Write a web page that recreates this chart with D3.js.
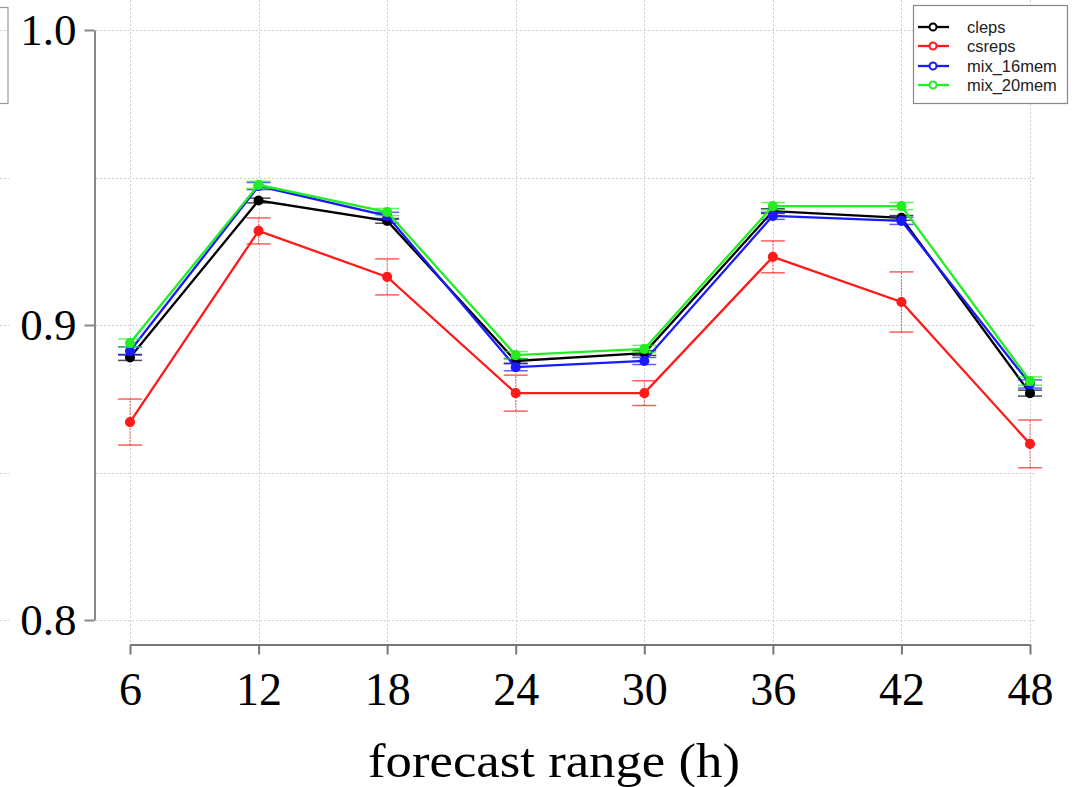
<!DOCTYPE html>
<html><head><meta charset="utf-8">
<script src="https://cdn.jsdelivr.net/npm/d3@7"></script>
<style>body{margin:0;background:#fff}svg{display:block}</style>
</head><body>
<svg id="c" width="1075" height="787"></svg>
<script>
const hours = [6, 12, 18, 24, 30, 36, 42, 48];
const seriesNames = ["cleps", "csreps", "mix_16mem", "mix_20mem"];
const seriesColors = ["#000000", "#ff1a1a", "#1a1aff", "#22ee22"];
const cleps     = [0.8890, 0.9422, 0.9353, 0.8878, 0.8905, 0.9386, 0.9363, 0.8769];
const csreps    = [0.8671, 0.9319, 0.9163, 0.8769, 0.8769, 0.9231, 0.9078, 0.8597];
const mix16     = [0.8912, 0.9471, 0.9370, 0.8857, 0.8878, 0.9370, 0.9353, 0.8800];
const mix20     = [0.8939, 0.9475, 0.9383, 0.8898, 0.8919, 0.9403, 0.9403, 0.8810];
const clepsErr  = [0.0010, 0.0008, 0.0008, 0.0008, 0.0008, 0.0008, 0.0008, 0.0010];
const csrepsErr = [0.0078, 0.0044, 0.0061, 0.0061, 0.0042, 0.0054, 0.0102, 0.0081];
const mix16Err  = [0.0014, 0.0012, 0.0012, 0.0012, 0.0012, 0.0012, 0.0012, 0.0014];
const mix20Err  = [0.0014, 0.0012, 0.0012, 0.0012, 0.0012, 0.0012, 0.0012, 0.0014];
const yTicks = [0.8, 0.9, 1.0];
const yGrid = [0.8, 0.85, 0.9, 0.95, 1.0];
const xLabel = "forecast range (h)";

const series = [
  {name: seriesNames[0], color: seriesColors[0], v: cleps,  e: clepsErr},
  {name: seriesNames[1], color: seriesColors[1], v: csreps, e: csrepsErr},
  {name: seriesNames[2], color: seriesColors[2], v: mix16,  e: mix16Err},
  {name: seriesNames[3], color: seriesColors[3], v: mix20,  e: mix20Err}
];

const svg = d3.select("#c");
const x = d3.scaleLinear().domain([6, 48]).range([130, 1030]);
const y = d3.scaleLinear().domain([0.8, 1.0]).range([620, 30]);
const serif = "'Liberation Serif','Times New Roman',serif";
const sans = "'Liberation Sans',Arial,sans-serif";

// grid
const grid = svg.append("g").attr("stroke", "#cfcfcf").attr("stroke-width", 1).attr("stroke-dasharray", "2,2");
grid.selectAll("line.h").data(yGrid).join("line")
  .attr("x1", 96).attr("x2", 1036)
  .attr("y1", d => Math.round(y(d)) + 0.5).attr("y2", d => Math.round(y(d)) + 0.5);
grid.selectAll("line.v").data(hours).join("line")
  .attr("x1", d => Math.round(x(d)) + 0.5).attr("x2", d => Math.round(x(d)) + 0.5)
  .attr("y1", 0).attr("y2", 644);
svg.append("g").attr("stroke", "#cfcfcf").attr("stroke-dasharray", "2,2")
  .selectAll("line").data(yGrid).join("line")
  .attr("x1", 0).attr("x2", 9)
  .attr("y1", d => Math.round(y(d)) + 0.5).attr("y2", d => Math.round(y(d)) + 0.5);

// partial box at left edge
svg.append("rect").attr("x", -20).attr("y", 7.5).attr("width", 28).attr("height", 96)
  .attr("fill", "none").attr("stroke", "#999").attr("stroke-width", 1.2);

// y axis
const yAxis = svg.append("g").attr("transform", "translate(94.5,0)")
  .call(d3.axisLeft(y).tickValues(yTicks).tickSize(10).tickSizeOuter(0).tickFormat(d3.format(".1f")).tickPadding(8));
yAxis.select(".domain").attr("stroke", "#888").attr("stroke-width", 2);
yAxis.selectAll(".tick line").attr("stroke", "#888").attr("stroke-width", 2);
yAxis.selectAll(".tick text").attr("font-family", serif).attr("font-size", 45).attr("fill", "#000").attr("dy", "0.32em");

// x axis
const xAxis = svg.append("g").attr("transform", "translate(0,644.5)")
  .call(d3.axisBottom(x).tickValues(hours).tickSize(10).tickSizeOuter(0).tickPadding(18));
xAxis.select(".domain").attr("stroke", "#777").attr("stroke-width", 2);
xAxis.selectAll(".tick line").attr("stroke", "#777").attr("stroke-width", 2);
xAxis.selectAll(".tick text").attr("font-family", serif).attr("font-size", 46).attr("fill", "#000");

svg.append("text").attr("x", 554).attr("y", 777).attr("text-anchor", "middle")
  .attr("font-family", serif).attr("font-size", 48).attr("fill", "#000")
  .attr("textLength", 372).attr("lengthAdjust", "spacingAndGlyphs").text(xLabel);

// series
const line = d3.line().x((d, i) => x(hours[i])).y(d => y(d));
series.forEach(s => {
  const g = svg.append("g");
  const errs = s.v.map((v, i) => ({h: hours[i], lo: v - s.e[i], hi: v + s.e[i]}));
  g.selectAll("line.err").data(errs).join("line")
    .attr("x1", d => x(d.h)).attr("x2", d => x(d.h))
    .attr("y1", d => y(d.lo)).attr("y2", d => y(d.hi))
    .attr("stroke", s.color).attr("stroke-opacity", 0.7).attr("stroke-width", 1).attr("stroke-dasharray", "2,1");
  g.selectAll("line.capl").data(errs).join("line")
    .attr("x1", d => x(d.h) - 12).attr("x2", d => x(d.h) + 12)
    .attr("y1", d => y(d.lo)).attr("y2", d => y(d.lo))
    .attr("stroke", s.color).attr("stroke-opacity", 0.7).attr("stroke-width", 1.5);
  g.selectAll("line.caph").data(errs).join("line")
    .attr("x1", d => x(d.h) - 12).attr("x2", d => x(d.h) + 12)
    .attr("y1", d => y(d.hi)).attr("y2", d => y(d.hi))
    .attr("stroke", s.color).attr("stroke-opacity", 0.7).attr("stroke-width", 1.5);
  g.append("path").datum(s.v).attr("d", line).attr("fill", "none")
    .attr("stroke", s.color).attr("stroke-width", 2.3);
  g.selectAll("circle").data(s.v).join("circle")
    .attr("cx", (d, i) => x(hours[i])).attr("cy", d => y(d)).attr("r", 4.3)
    .attr("fill", s.color).attr("stroke", s.color).attr("stroke-width", 1.5);
});

// legend
const lg = svg.append("g");
lg.append("rect").attr("x", 913.5).attr("y", 5.5).attr("width", 154).attr("height", 98)
  .attr("fill", "#fff").attr("stroke", "#888").attr("stroke-width", 1.2);
const ly = [27, 46, 66, 85];
series.forEach((s, i) => {
  lg.append("line").attr("x1", 918).attr("x2", 949).attr("y1", ly[i]).attr("y2", ly[i])
    .attr("stroke", s.color).attr("stroke-width", 2.3);
  lg.append("circle").attr("cx", 933).attr("cy", ly[i]).attr("r", 3.5)
    .attr("fill", "#fff").attr("stroke", s.color).attr("stroke-width", 2);
  lg.append("text").attr("x", 967).attr("y", ly[i]).attr("dy", "0.35em")
    .attr("font-family", sans).attr("font-size", 16.5).attr("fill", "#222").text(s.name);
});
</script>
</body></html>
